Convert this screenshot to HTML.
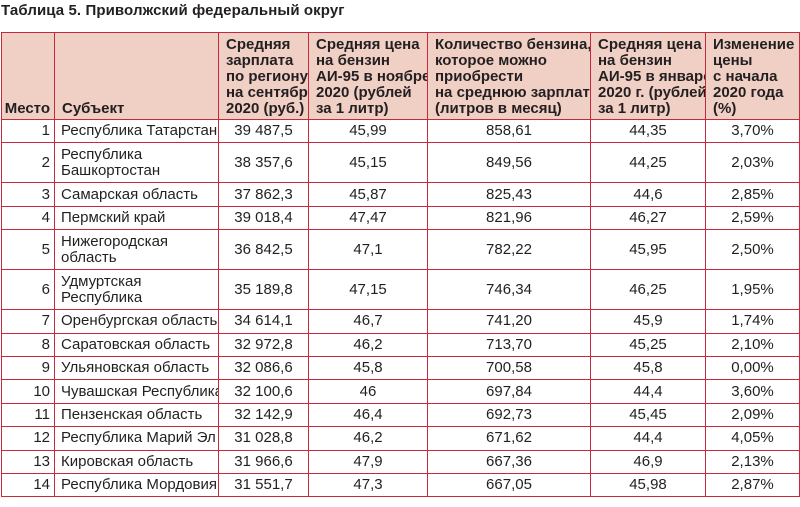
<!DOCTYPE html>
<html><head><meta charset="utf-8"><style>
body{margin:0;width:800px;height:507px;background:#fff;overflow:hidden;font-family:"Liberation Sans Narrow","Liberation Sans",sans-serif;color:#231f20}
h1{position:absolute;left:1px;top:2px;margin:0;font-size:15px;font-weight:bold;font-family:"Liberation Sans Narrow","Liberation Sans",sans-serif;letter-spacing:0.1px}
table{position:absolute;left:1px;top:32px;border-collapse:collapse;table-layout:fixed;width:798px}
td,th{border:1.3px solid #c8283c;padding:0 4px;font-size:15px;line-height:16px;white-space:nowrap;overflow:hidden}
th{background:#f0cfc4;font-weight:bold;text-align:left;vertical-align:bottom;padding:2px 4px 2px 7px}
th.m{text-align:right;padding-right:4px;padding-left:2px}
td{text-align:center}
td.n{text-align:right;padding-right:4px}
td.s{text-align:left;padding-left:6px}
</style></head><body>
<h1>Таблица 5. Приволжский федеральный округ</h1>
<table>
<colgroup><col style="width:53px"><col style="width:164px"><col style="width:90px"><col style="width:119px"><col style="width:163px"><col style="width:115px"><col style="width:94px"></colgroup>
<tr style="height:87px">
<th class="m">Место</th>
<th>Субъект</th>
<th>Средняя<br>зарплата<br>по региону<br>на сентябрь<br>2020 (руб.)</th>
<th>Средняя цена<br>на бензин<br>АИ-95 в ноябре<br>2020 (рублей<br>за 1 литр)</th>
<th>Количество бензина,<br>которое можно<br>приобрести<br>на среднюю зарплату<br>(литров в месяц)</th>
<th>Средняя цена<br>на бензин<br>АИ-95 в январе<br>2020 г. (рублей<br>за 1 литр)</th>
<th>Изменение<br>цены<br>с начала<br>2020 года<br>(%)</th>
</tr>
<tbody id="tb"></tbody>
</table>
<script>
const ranks=[1,2,3,4,5,6,7,8,9,10,11,12,13,14];
const subjects=["Республика Татарстан","Республика<br>Башкортостан","Самарская область","Пермский край","Нижегородская<br>область","Удмуртская<br>Республика","Оренбургская область","Саратовская область","Ульяновская область","Чувашская Республика","Пензенская область","Республика Марий Эл","Кировская область","Республика Мордовия"];
const salaries=["39 487,5","38 357,6","37 862,3","39 018,4","36 842,5","35 189,8","34 614,1","32 972,8","32 086,6","32 100,6","32 142,9","31 028,8","31 966,6","31 551,7"];
const priceNov=["45,99","45,15","45,87","47,47","47,1","47,15","46,7","46,2","45,8","46","46,4","46,2","47,9","47,3"];
const liters=["858,61","849,56","825,43","821,96","782,22","746,34","741,20","713,70","700,58","697,84","692,73","671,62","667,36","667,05"];
const priceJan=["44,35","44,25","44,6","46,27","45,95","46,25","45,9","45,25","45,8","44,4","45,45","44,4","46,9","45,98"];
const changes=["3,70%","2,03%","2,85%","2,59%","2,50%","1,95%","1,74%","2,10%","0,00%","3,60%","2,09%","4,05%","2,13%","2,87%"];
const tb=document.getElementById('tb');
ranks.forEach((r,i)=>{
  const tr=document.createElement('tr');
  
  
  const two=subjects[i].includes('<br>');
  tr.style.height=(two?40:23.4)+'px';
  const cells=[[r,'n','rank'],[subjects[i],'s','subject'],[salaries[i],'','salary'],[priceNov[i],'','price-nov'],[liters[i],'','liters'],[priceJan[i],'','price-jan'],[changes[i],'','change']];
  cells.forEach(c=>{
    const td=document.createElement('td');
    
    
    if(c[1])td.className=c[1];
    td.innerHTML=c[0];
    tr.appendChild(td);
  });
  tb.appendChild(tr);
});
</script>
</body></html>
